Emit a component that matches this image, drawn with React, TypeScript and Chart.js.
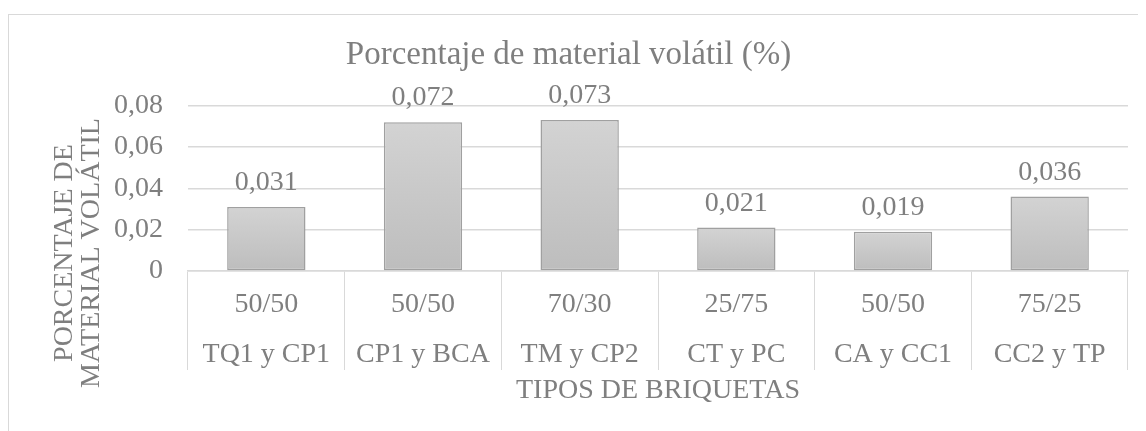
import React, { useEffect, useRef } from "react";
import { Chart, registerables } from "chart.js";

Chart.register(...registerables);

const ratios = ["50/50", "50/50", "70/30", "25/75", "50/50", "75/25"];
const names = ["TQ1 y CP1", "CP1 y BCA", "TM y CP2", "CT y PC", "CA y CC1", "CC2 y TP"];
const values = [0.031, 0.072, 0.073, 0.021, 0.019, 0.036];
const yTicks = [0, 0.02, 0.04, 0.06, 0.08];
const chartTitle = "Porcentaje de material volátil (%)";
const yTitle = ["PORCENTAJE DE", "MATERIAL VOLÁTIL"];
const xTitle = "TIPOS DE BRIQUETAS";

const FONT = "'Liberation Serif', 'Times New Roman', serif";
const TEXT = "#7f7f7f";
const GRID = "#d9d9d9";

const fmt = (v: number, d: number) => (v === 0 ? "0" : v.toFixed(d).replace(".", ","));

const textPlugin = {
  id: "customText",
  afterDatasetsDraw(chart: any) {
    const ctx = chart.ctx;
    const meta = chart.getDatasetMeta(0);
    ctx.save();
    ctx.font = `28px ${FONT}`;
    ctx.fillStyle = TEXT;
    ctx.textAlign = "center";
    ctx.textBaseline = "alphabetic";
    meta.data.forEach((el: any, i: number) => {
      ctx.fillText(fmt(values[i], 3), el.x, el.y - 17);
    });
    ctx.restore();
    // y axis title (two lines, rotated, centred on plot + category area)
    ctx.save();
    ctx.font = `28px ${FONT}`;
    ctx.fillStyle = TEXT;
    ctx.textAlign = "center";
    ctx.textBaseline = "middle";
    const xs = [56, 83];
    yTitle.forEach((line, i) => {
      ctx.save();
      ctx.translate(xs[i], 238);
      ctx.rotate(-Math.PI / 2);
      ctx.fillText(line, 0, 0);
      ctx.restore();
    });
    ctx.restore();
  },
};

export default function App() {
  const ref = useRef<HTMLCanvasElement>(null);
  useEffect(() => {
    document.documentElement.style.overflow = "hidden";
    document.body.style.overflow = "hidden";
    const canvas = ref.current;
    if (!canvas) return;
    const chart = new Chart(canvas, {
      type: "bar",
      data: {
        labels: ratios.map((r, i) => [r, names[i]]),
        datasets: [
          {
            data: values,
            backgroundColor: (c: any) => {
              const ch = c.chart;
              if (!ch.chartArea || c.dataIndex === undefined) return "#c8c8c8";
              const y = ch.scales.y;
              const top = y.getPixelForValue(values[c.dataIndex]);
              const bottom = y.getPixelForValue(0);
              if (!isFinite(top) || !isFinite(bottom) || top === bottom) return "#c8c8c8";
              const g = ch.ctx.createLinearGradient(0, top, 0, bottom);
              g.addColorStop(0, "#d3d3d3");
              g.addColorStop(1, "#bdbdbd");
              return g;
            },
            borderColor: "#a0a0a0",
            borderWidth: 1.5,
            borderSkipped: false,
            barPercentage: 0.5,
            categoryPercentage: 1,
          },
        ],
      },
      options: {
        responsive: false,
        animation: false,
        layout: { padding: { left: 0, right: 18, top: 0, bottom: 0 } },
        plugins: {
          legend: { display: false },
          tooltip: { enabled: false },
          title: {
            display: true,
            text: chartTitle,
            color: TEXT,
            font: { family: FONT, size: 33, weight: "normal", lineHeight: 1.2 },
            padding: { top: 21, bottom: 30 },
          },
        },
        scales: {
          x: {
            offset: true,
            grid: {
              offset: true,
              drawOnChartArea: false,
              drawTicks: true,
              tickLength: 99,
              tickColor: GRID,
              tickWidth: 1,
              color: GRID,
            },
            border: { display: true, color: GRID, width: 1.5 },
            ticks: {
              color: TEXT,
              font: { family: FONT, size: 28, lineHeight: 1.78 },
              padding: -90,
              maxRotation: 0,
              autoSkip: false,
            },
            title: {
              display: true,
              text: xTitle,
              color: TEXT,
              font: { family: FONT, size: 28, lineHeight: 1.2 },
              padding: { top: 0, bottom: 24 },
            },
            afterFit: (s: any) => {
              s.height = 160;
            },
          },
          y: {
            min: 0,
            max: 0.08,
            grid: { color: GRID, lineWidth: 1.5, drawTicks: false },
            border: { display: false },
            ticks: {
              color: TEXT,
              font: { family: FONT, size: 28 },
              padding: 25,
              callback: (v: any) => fmt(Number(v), 2),
            },
            afterBuildTicks: (s: any) => {
              s.ticks = yTicks.map((v) => ({ value: v }));
            },
            afterFit: (s: any) => {
              s.width = 179;
            },
          },
        },
      },
      plugins: [textPlugin],
    });
    return () => chart.destroy();
  }, []);

  return (
    <div style={{ paddingTop: 6 }}>
      <div
        style={{
          borderTop: `1px solid ${GRID}`,
          borderLeft: `1px solid ${GRID}`,
          width: 1137,
          height: 416,
        }}
      >
        <canvas ref={ref} width={1137} height={416} style={{ display: "block" }} />
      </div>
    </div>
  );
}
